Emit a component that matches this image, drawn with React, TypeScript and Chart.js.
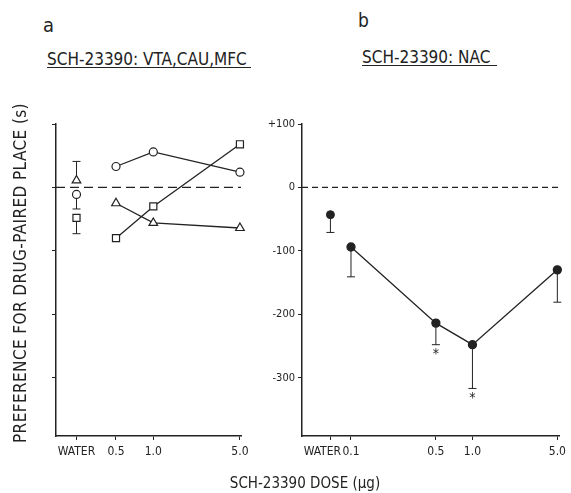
import React, { useEffect, useRef } from 'react';
import { Chart, registerables } from 'chart.js';

Chart.register(...registerables);

const FONT = "'DejaVu Sans Condensed', 'DejaVu Sans', sans-serif";
const INK = '#222';

// ---- Panel a: SCH-23390 in VTA, CAU, MFC ----
const A_DOSES = [0.5, 1.0, 5.0];
const A_CIRCLE = [33, 56, 24];
const A_SQUARE = [-80, -30, 68];
const A_TRIANGLE = [-25, -56, -64];
const A_WATER_X = 0.24;
const A_WATER_VALUES = [11, -11, -48]; // triangle, circle, square
const A_WATER_ERR = [30, -23, -25];
const A_WATER_STYLES = ['triangle', 'circle', 'rect'];
const A_TICK_VALUES = [0.24, 0.5, 1, 5];
const A_TICK_LABELS = ['WATER', '0.5', '1.0', '5.0'];
const A_X_RANGE = [0.164, 5.1];

// ---- Panel b: SCH-23390 in NAC ----
const B_DOSES = [0.1, 0.5, 1.0, 5.0];
const B_VALUES = [-94, -214, -248, -130];
const B_ERR = [-47, -34, -69, -51];
const B_SIG = [false, true, true, false];
const B_WATER_X = 0.0677;
const B_WATER_VALUE = [-43];
const B_WATER_ERR = [-28];
const B_TICK_VALUES = [0.0677, 0.1, 0.5, 1, 5];
const B_TICK_LABELS = ['WATER\u2002\u2002\u2002', '0.1', '0.5', '1.0', '5.0'];
const B_X_RANGE = [0.0395, 5.25];

const Y_RANGE = [-392, 100];
const Y_TICKS = [100, 0, -100, -200, -300];

const errorBarPlugin = {
  id: 'errorBars',
  beforeDatasetsDraw(chart: any) {
    const ctx = chart.ctx;
    const ys = chart.scales.y;
    chart.data.datasets.forEach((ds: any, i: number) => {
      if (!ds.err) return;
      const meta = chart.getDatasetMeta(i);
      meta.data.forEach((pt: any, j: number) => {
        const e = ds.err[j];
        if (!e) return;
        const v = ds.data[j].y;
        const y2 = ys.getPixelForValue(v + e);
        ctx.save();
        ctx.strokeStyle = INK;
        ctx.lineWidth = 1;
        ctx.beginPath();
        ctx.moveTo(pt.x, pt.y);
        ctx.lineTo(pt.x, y2);
        ctx.moveTo(pt.x - 4, y2);
        ctx.lineTo(pt.x + 4, y2);
        ctx.stroke();
        if (ds.sig && ds.sig[j]) {
          ctx.fillStyle = INK;
          ctx.font = `14px ${FONT}`;
          ctx.textAlign = 'center';
          ctx.textBaseline = 'top';
          ctx.fillText('*', pt.x, y2 + 3);
        }
        ctx.restore();
      });
    });
  },
};

function pts(xs: number[], ys: number[]) {
  return ys.map((y, i) => ({ x: xs[i], y }));
}

function makeScales(opts: {
  xRange: number[];
  tickValues: number[];
  tickLabels: string[];
  yWidth: number;
  showYLabels: boolean;
}) {
  return {
    x: {
      type: 'logarithmic',
      min: opts.xRange[0],
      max: opts.xRange[1],
      afterBuildTicks: (s: any) => {
        s.ticks = opts.tickValues.map((v) => ({ value: v }));
      },
      afterFit: (s: any) => {
        s.height = 44;
      },
      ticks: {
        autoSkip: false,
        maxRotation: 0,
        minRotation: 0,
        color: INK,
        padding: 5,
        font: { family: FONT, size: 12 },
        callback: (_v: any, i: number) => opts.tickLabels[i],
      },
      grid: { drawOnChartArea: false, drawTicks: true, tickLength: 4, color: INK },
      border: { display: true, color: INK, width: 1.5 },
    },
    y: {
      type: 'linear',
      min: Y_RANGE[0],
      max: Y_RANGE[1],
      afterBuildTicks: (s: any) => {
        s.ticks = Y_TICKS.map((v) => ({ value: v }));
      },
      afterFit: (s: any) => {
        s.width = opts.yWidth;
      },
      ticks: {
        display: opts.showYLabels,
        color: INK,
        padding: 3,
        font: { family: FONT, size: 11 },
        callback: (v: any) => (v > 0 ? '+' + v : String(v)),
      },
      grid: { drawOnChartArea: false, drawTicks: true, tickLength: 4, color: INK },
      border: { display: true, color: INK, width: 1.5 },
    },
  };
}

function baseOptions(scales: any, padRight: number) {
  return {
    responsive: false,
    animation: false,
    layout: { padding: { top: 24, right: padRight, left: 0, bottom: 0 } },
    plugins: { legend: { display: false }, tooltip: { enabled: false } },
    scales,
  };
}

function configA(): any {
  const series = (data: number[], style: string, radius: number) => ({
    data: pts(A_DOSES, data),
    showLine: true,
    borderColor: INK,
    borderWidth: 1.3,
    pointStyle: style,
    pointRadius: radius,
    pointBackgroundColor: '#fff',
    pointBorderColor: INK,
    pointBorderWidth: 1.2,
    clip: false,
  });
  return {
    type: 'scatter',
    data: {
      datasets: [
        {
          data: pts(A_X_RANGE, [0, 0]),
          showLine: true,
          borderColor: INK,
          borderWidth: 1.2,
          borderDash: [9, 5],
          pointRadius: 0,
        },
        {
          data: A_WATER_VALUES.map((y) => ({ x: A_WATER_X, y })),
          showLine: false,
          err: A_WATER_ERR,
          pointStyle: A_WATER_STYLES,
          pointRadius: [5, 4, 5],
          pointBackgroundColor: '#fff',
          pointBorderColor: INK,
          pointBorderWidth: 1.2,
        },
        series(A_CIRCLE, 'circle', 4),
        series(A_SQUARE, 'rect', 5),
        series(A_TRIANGLE, 'triangle', 5),
      ],
    },
    options: baseOptions(
      makeScales({
        xRange: A_X_RANGE,
        tickValues: A_TICK_VALUES,
        tickLabels: A_TICK_LABELS,
        yWidth: 56,
        showYLabels: false,
      }),
      14
    ),
    plugins: [errorBarPlugin],
  };
}

function configB(): any {
  return {
    type: 'scatter',
    data: {
      datasets: [
        {
          data: pts(B_X_RANGE, [0, 0]),
          showLine: true,
          borderColor: INK,
          borderWidth: 1.2,
          borderDash: [6, 4],
          pointRadius: 0,
        },
        {
          data: B_WATER_VALUE.map((y) => ({ x: B_WATER_X, y })),
          showLine: false,
          err: B_WATER_ERR,
          pointStyle: 'circle',
          pointRadius: 4,
          pointBackgroundColor: INK,
          pointBorderColor: INK,
        },
        {
          data: pts(B_DOSES, B_VALUES),
          showLine: true,
          err: B_ERR,
          sig: B_SIG,
          borderColor: INK,
          borderWidth: 1.3,
          pointStyle: 'circle',
          pointRadius: 4,
          pointBackgroundColor: INK,
          pointBorderColor: INK,
          clip: false,
        },
      ],
    },
    options: baseOptions(
      makeScales({
        xRange: B_X_RANGE,
        tickValues: B_TICK_VALUES,
        tickLabels: B_TICK_LABELS,
        yWidth: 47,
        showYLabels: true,
      }),
      8
    ),
    plugins: [errorBarPlugin],
  };
}

function Panel(props: { left: number; top: number; width: number; height: number; config: () => any }) {
  const ref = useRef<HTMLCanvasElement>(null);
  useEffect(() => {
    const chart = new Chart(ref.current as HTMLCanvasElement, props.config());
    return () => chart.destroy();
  }, []);
  return (
    <div style={{ position: 'absolute', left: props.left, top: props.top, width: props.width, height: props.height }}>
      <canvas ref={ref} width={props.width} height={props.height} style={{ width: props.width, height: props.height, display: 'block' }} />
    </div>
  );
}

const textBase: React.CSSProperties = {
  position: 'absolute',
  fontFamily: FONT,
  color: INK,
  whiteSpace: 'nowrap',
  lineHeight: 1,
};

export default function App() {
  return (
    <div style={{ position: 'absolute', left: 0, top: 0, width: 571, height: 493, background: '#fff', overflow: 'hidden' }}>
      <Panel left={0} top={100} width={255} height={380} config={configA} />
      <Panel left={255} top={100} width={316} height={380} config={configB} />

      <div style={{ ...textBase, left: 43, top: 15, fontSize: 20 }}>a</div>
      <div style={{ ...textBase, left: 358, top: 11, fontSize: 19 }}>b</div>

      <div style={{ ...textBase, left: 47, top: 50.5, fontSize: 17 }}>SCH-23390: VTA,CAU,MFC</div>
      <div style={{ position: 'absolute', left: 47, top: 66.5, width: 204, height: 1.3, background: INK }} />

      <div style={{ ...textBase, left: 362, top: 48.5, fontSize: 17 }}>SCH-23390: NAC</div>
      <div style={{ position: 'absolute', left: 362, top: 64.5, width: 135, height: 1.3, background: INK }} />

      <div
        style={{
          ...textBase,
          left: 20 - 190,
          top: 273 - 10,
          width: 380,
          height: 20,
          lineHeight: '20px',
          fontSize: 17,
          letterSpacing: 0.4,
          textAlign: 'center',
          transform: 'rotate(-90deg)',
        }}
      >
        PREFERENCE FOR DRUG-PAIRED PLACE (s)
      </div>

      <div
        style={{
          ...textBase,
          left: 305 - 150,
          top: 472.5,
          width: 300,
          height: 20,
          lineHeight: '20px',
          fontSize: 15,
          textAlign: 'center',
        }}
      >
        SCH-23390 DOSE (µg)
      </div>
    </div>
  );
}
